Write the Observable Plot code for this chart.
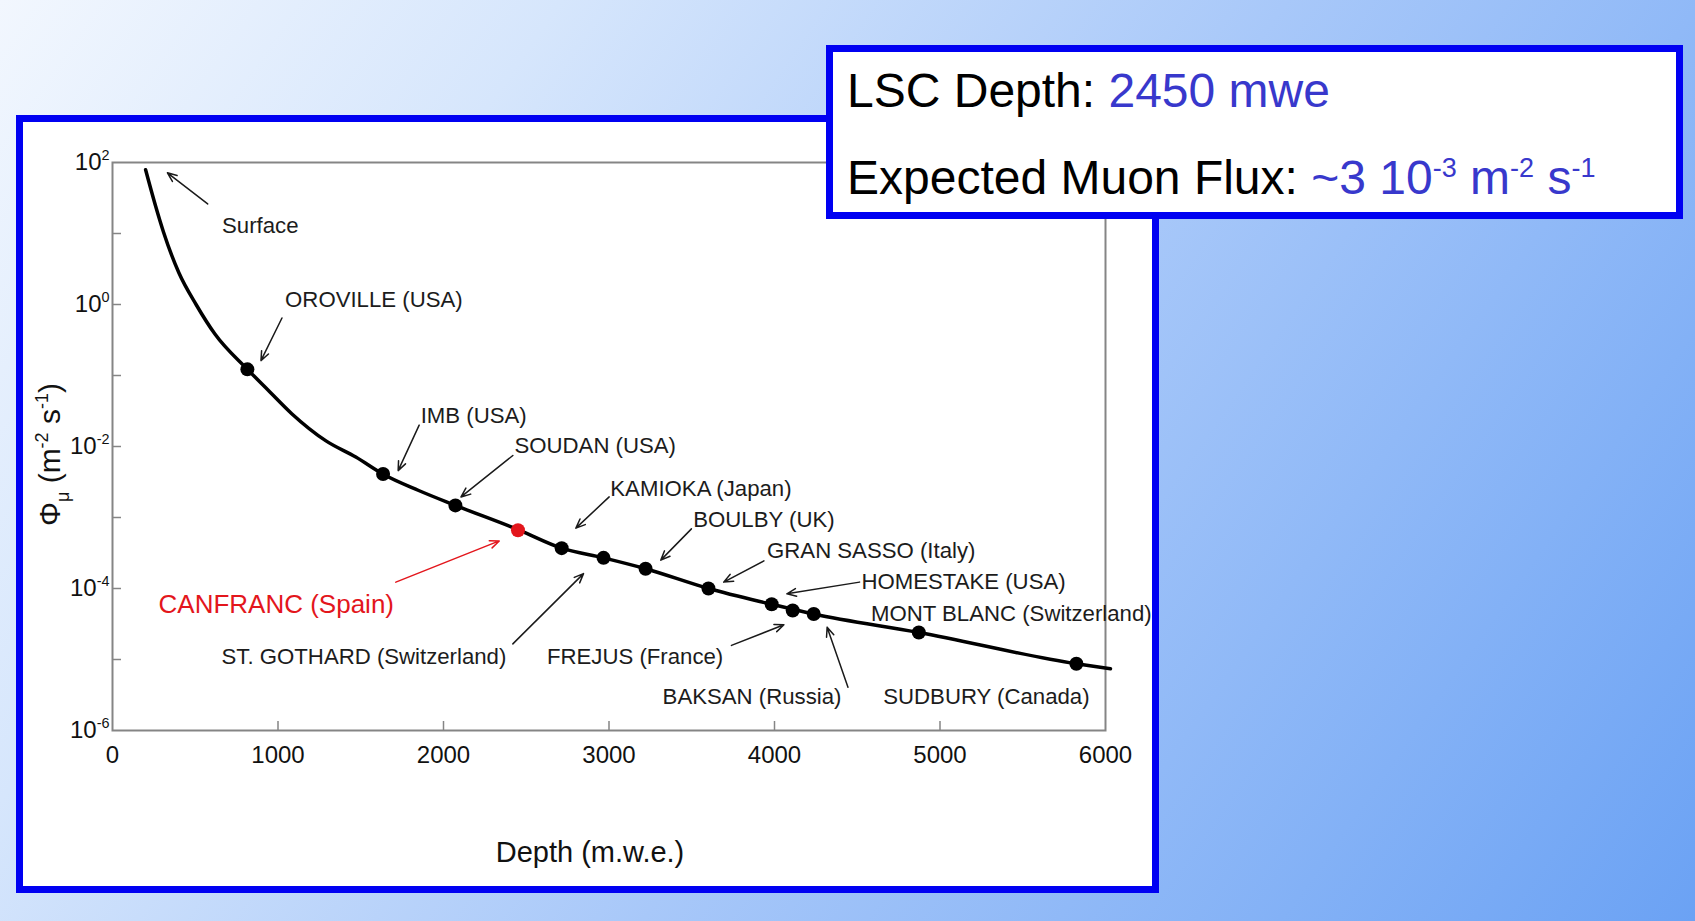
<!DOCTYPE html>
<html>
<head>
<meta charset="utf-8">
<script src="https://cdn.jsdelivr.net/npm/d3@7"></script>
<script src="https://cdn.jsdelivr.net/npm/@observablehq/plot@0.6"></script>
<style>
  html, body { margin: 0; padding: 0; }
  body {
    width: 1695px; height: 921px; overflow: hidden; position: relative;
    background: linear-gradient(125deg, #f2f7fe 0%, #d6e6fc 24%, #a8c8f9 55%, #6ba2f4 100%);
    font-family: "Liberation Sans", Arial, sans-serif;
  }
  #panel {
    position: absolute; left: 16px; top: 115px; width: 1143px; height: 778px;
    box-sizing: border-box; border: 7px solid #0000f2; background: #fff;
  }
  #panel svg { display: block; overflow: visible; }
  #info {
    position: absolute; left: 826px; top: 45px; width: 857px; height: 174px;
    box-sizing: border-box; border: 7px solid #0000f2; background: #fff;
  }
  #info .line {
    position: absolute; left: 14px; font-size: 48px; line-height: 48px;
    white-space: nowrap; color: #000;
  }
  #info .val { color: #3838cc; }
  #info sup { font-size: 27px; vertical-align: baseline; position: relative; top: -17px; }
</style>
</head>
<body>
<div id="panel"></div>
<div id="info">
  <div class="line" style="top:15px">LSC Depth: <span class="val">2450 mwe</span></div>
  <div class="line" style="top:102px">Expected Muon Flux: <span class="val">~3 10<sup>-3</sup> m<sup>-2</sup> s<sup>-1</sup></span></div>
</div>
<script>
// Depth–intensity relation of the underground muon flux
const curveDepth = [200, 259, 308, 401, 505, 620, 815, 941, 1083, 1290, 1470, 1633, 1850, 2072, 2460, 2714, 2967, 3221, 3601, 3983, 4237, 4872, 5824, 6030];
const curveFlux  = [79, 25, 10.5, 2.8, 1.0, 0.38, 0.122, 0.062, 0.029, 0.012, 0.0071, 0.0041, 0.0024, 0.00148, 0.00066, 0.00037, 0.00027, 0.00019, 0.00010, 0.00006, 0.0000437, 0.000024, 0.0000087, 0.0000074];

// Underground laboratories on the curve
const labDepth = [815, 1635, 2072, 2714, 2967, 3221, 3601, 3983, 4110, 4237, 4872, 5824];
const labFlux  = [0.122, 0.0041, 0.00148, 0.00037, 0.00027, 0.00019, 0.00010, 0.00006, 0.000049, 0.0000437, 0.000024, 0.0000087];

// Canfranc (LSC)
const lscDepth = [2450];
const lscFlux  = [0.00066];
const lscName  = ["CANFRANC (Spain)"];
const lscLabelDepth = [278];
const lscLabelFlux  = [0.00006];
const lscArrowFrom  = [[1712, 0.000123]];
const lscArrowTo    = [[2337, 0.000468]];

// Site labels (left edge, vertical middle)
const siteNames = ["Surface", "OROVILLE (USA)", "IMB (USA)", "SOUDAN (USA)", "KAMIOKA (Japan)", "BOULBY (UK)", "GRAN SASSO (Italy)", "HOMESTAKE (USA)", "MONT BLANC (Switzerland)", "SUDBURY (Canada)", "BAKSAN (Russia)", "FREJUS (France)", "ST. GOTHARD (Switzerland)"];
const siteLabelDepth = [662, 1043, 1862, 2429, 3008, 3509, 3955, 4525, 4583, 4657, 3324, 2625, 659];
const siteLabelFlux  = [12.9, 1.16, 0.0273, 0.0102, 0.00251, 0.000912, 0.000343, 0.000123, 0.0000437, 0.00000295, 0.00000295, 0.000011, 0.000011];

// Pointer arrows: tail (near label) -> head (near point)
const arrowFromDepth = [575, 1024, 1853, 2419, 3001, 3498, 3936, 4514, 4444, 3740, 2419];
const arrowFromFlux  = [26.1, 0.645, 0.0200, 0.00746, 0.00195, 0.000692, 0.000245, 0.000123, 0.00000407, 0.0000158, 0.0000166];
const arrowToDepth   = [332, 897, 1726, 2106, 2800, 3313, 3693, 4075, 4318, 4057, 2846];
const arrowToFlux    = [71.6, 0.162, 0.00457, 0.00195, 0.000708, 0.000251, 0.000123, 0.0000841, 0.0000285, 0.0000309, 0.000162];

// Axes
const xTickValues = [0, 1000, 2000, 3000, 4000, 5000, 6000];
const xTickMarks = [1000, 2000, 3000, 4000, 5000];
const yTickValues = [1e2, 1e0, 1e-2, 1e-4, 1e-6];
const yTickLabels = ["10^{2}", "10^{0}", "10^{-2}", "10^{-4}", "10^{-6}"];
const yTickMarks = [1e1, 1e0, 1e-1, 1e-2, 1e-3, 1e-4, 1e-5];
const xTitle = "Depth (m.w.e.)";
const yTitle = "Φ_{μ} (m^{-2} s^{-1})";

const W = 1129, H = 764;
const mL = 89, mR = 47, mT = 40, mB = 156;
const plotW = W - mL - mR, plotH = H - mT - mB;
const tickLen = 9;
const ink = "#111";
const grey = "#858585";
const red = "#e3161c";

const curve = curveDepth.map((d, i) => ({depth: d, flux: curveFlux[i]}));
const labs = labDepth.map((d, i) => ({depth: d, flux: labFlux[i]}));
const lsc = lscDepth.map((d, i) => ({depth: d, flux: lscFlux[i]}));
const siteLabels = siteNames.map((n, i) => ({name: n, depth: siteLabelDepth[i], flux: siteLabelFlux[i]}));
const arrows = arrowFromDepth.map((d, i) => ({x1: d, y1: arrowFromFlux[i], x2: arrowToDepth[i], y2: arrowToFlux[i]}));
const lscLabels = lscName.map((n, i) => ({name: n, depth: lscLabelDepth[i], flux: lscLabelFlux[i]}));
const lscArrows = lscArrowFrom.map((f, i) => ({x1: f[0], y1: f[1], x2: lscArrowTo[i][0], y2: lscArrowTo[i][1]}));

const chart = Plot.plot({
  width: W, height: H,
  marginLeft: mL, marginRight: mR, marginTop: mT, marginBottom: mB,
  style: {fontFamily: "'Liberation Sans', Arial, sans-serif", background: "#fff", overflow: "visible"},
  x: {domain: [0, 6000]},
  y: {type: "log", domain: [1e-6, 1e2]},
  marks: [
    Plot.frame({stroke: grey, strokeWidth: 2}),
    Plot.ruleX(xTickMarks, {x: d => d, stroke: grey, strokeWidth: 1.5, insetTop: plotH - tickLen}),
    Plot.ruleY(yTickMarks, {y: d => d, stroke: grey, strokeWidth: 1.5, insetRight: plotW - tickLen}),
    Plot.axisX(xTickValues, {tickSize: 0, tickPadding: 15, fontSize: 24, color: ink, label: null,
      tickFormat: d => String(d)}),
    Plot.axisY(yTickValues, {tickSize: 0, tickPadding: 3, fontSize: 24, color: ink, label: null,
      tickFormat: d => yTickLabels[yTickValues.indexOf(d)]}),
    Plot.text([xTitle], {text: d => d, frameAnchor: "bottom", textAnchor: "middle", lineAnchor: "middle",
      dx: -19, dy: 122, fontSize: 29, fill: ink}),
    Plot.text([yTitle], {text: d => d, frameAnchor: "left", textAnchor: "middle", lineAnchor: "middle",
      rotate: -90, dx: -62, dy: 8, fontSize: 30, fill: ink}),
    Plot.line(curve, {x: "depth", y: "flux", curve: "monotone-x", stroke: "#000", strokeWidth: 3.5}),
    Plot.arrow(arrows, {x1: "x1", y1: "y1", x2: "x2", y2: "y2", stroke: "#1a1a1a", strokeWidth: 1.5, headLength: 10, headAngle: 45}),
    Plot.arrow(lscArrows, {x1: "x1", y1: "y1", x2: "x2", y2: "y2", stroke: red, strokeWidth: 1.5, headLength: 10, headAngle: 45}),
    Plot.dot(labs, {x: "depth", y: "flux", r: 7, fill: "#000"}),
    Plot.dot(lsc, {x: "depth", y: "flux", r: 7, fill: red}),
    Plot.text(siteLabels, {x: "depth", y: "flux", text: "name", textAnchor: "start", fontSize: 22.2, fill: "#1c1c1c"}),
    Plot.text(lscLabels, {x: "depth", y: "flux", text: "name", textAnchor: "start", fontSize: 26, fill: red})
  ]
});

// Render ^{..} and _{..} as raised / lowered tspans
function setRich(textEl, src, fs) {
  const parts = src.split(/([_^]\{[^}]*\})/).filter(s => s.length);
  textEl.textContent = "";
  let back = 0;
  for (const p of parts) {
    const ts = document.createElementNS("http://www.w3.org/2000/svg", "tspan");
    const script = (p[0] === "^" || p[0] === "_") && p[1] === "{";
    if (script) {
      const up = p[0] === "^";
      const shift = up ? -fs * 0.42 : fs * 0.28;
      ts.setAttribute("font-size", fs * 0.6);
      ts.setAttribute("dy", back + shift);
      back = -shift;
      ts.textContent = p.slice(2, -1);
    } else {
      if (back) ts.setAttribute("dy", back);
      back = 0;
      ts.textContent = p;
    }
    textEl.appendChild(ts);
  }
}
chart.querySelectorAll('[aria-label="y-axis tick label"] text').forEach(t => setRich(t, t.textContent, 24));
chart.querySelectorAll('[aria-label="text"] text').forEach(t => {
  if (t.textContent === yTitle) setRich(t, yTitle, 30);
});

document.getElementById("panel").appendChild(chart);
</script>
</body>
</html>
